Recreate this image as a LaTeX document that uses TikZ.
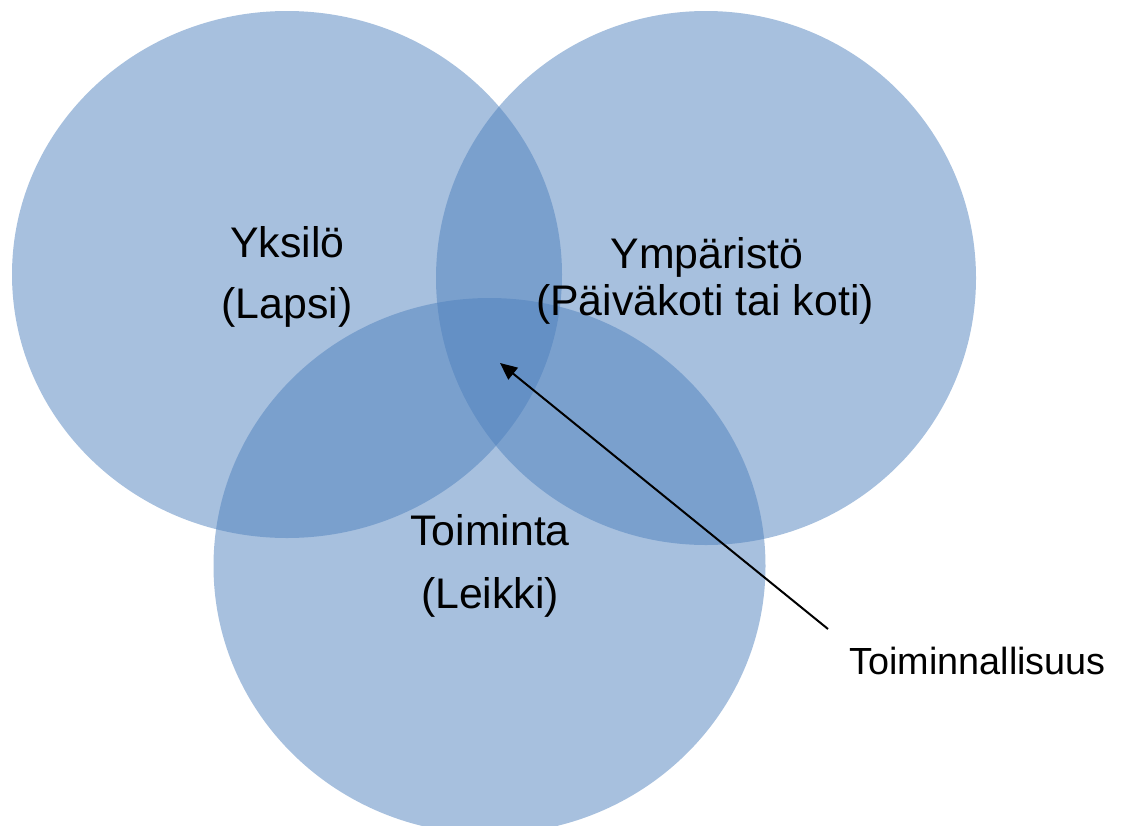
\documentclass[tikz,border=0pt]{standalone}
\usepackage{fontspec}
\setmainfont{Liberation Sans}
\usetikzlibrary{shapes.geometric,arrows.meta}

\definecolor{setblue}{RGB}{79,129,189}

\begin{document}
\begin{tikzpicture}[x=1pt, y=-1pt,
        set/.style = {ellipse, inner sep=0pt, fill=setblue, fill opacity=0.5},
        big/.style = {anchor=base, inner sep=0pt, font=\fontsize{42.8}{51}\selectfont},
        small/.style = {anchor=base, inner sep=0pt, font=\fontsize{37.8}{45}\selectfont}]
    \useasboundingbox (0,0) rectangle (1122,825);

    % the three sets
    \node[set, minimum width=550pt, minimum height=527pt] (yksilo) at (287,274.5) {};
    \node[set, minimum width=540pt, minimum height=534pt] (ymparisto) at (706,278) {};
    \node[set, minimum width=552pt, minimum height=536pt] (toiminta) at (489.5,566) {};

    % labels
    \node[big] (yksilo_1) at (287.5,257) {Yksilö};
    \node[big] (yksilo_2) at (287,318) {(Lapsi)};
    \node[big] (ymparisto_1) at (707,268) {Ympäristö};
    \node[big] (ymparisto_2) at (705,315) {(Päiväkoti tai koti)};
    \node[big] (toiminta_1) at (490,545) {Toiminta};
    \node[big] (toiminta_2) at (490,608) {(Leikki)};
    \node[small] (toiminnallisuus) at (977.5,674) {Toiminnallisuus};

    \coordinate (keskus) at (500,363);
    \coordinate (alku) at (828,629);
    \draw[line width=2pt, -{Triangle[length=17pt,width=15pt]}] (alku) -- (keskus);
\end{tikzpicture}
\end{document}
